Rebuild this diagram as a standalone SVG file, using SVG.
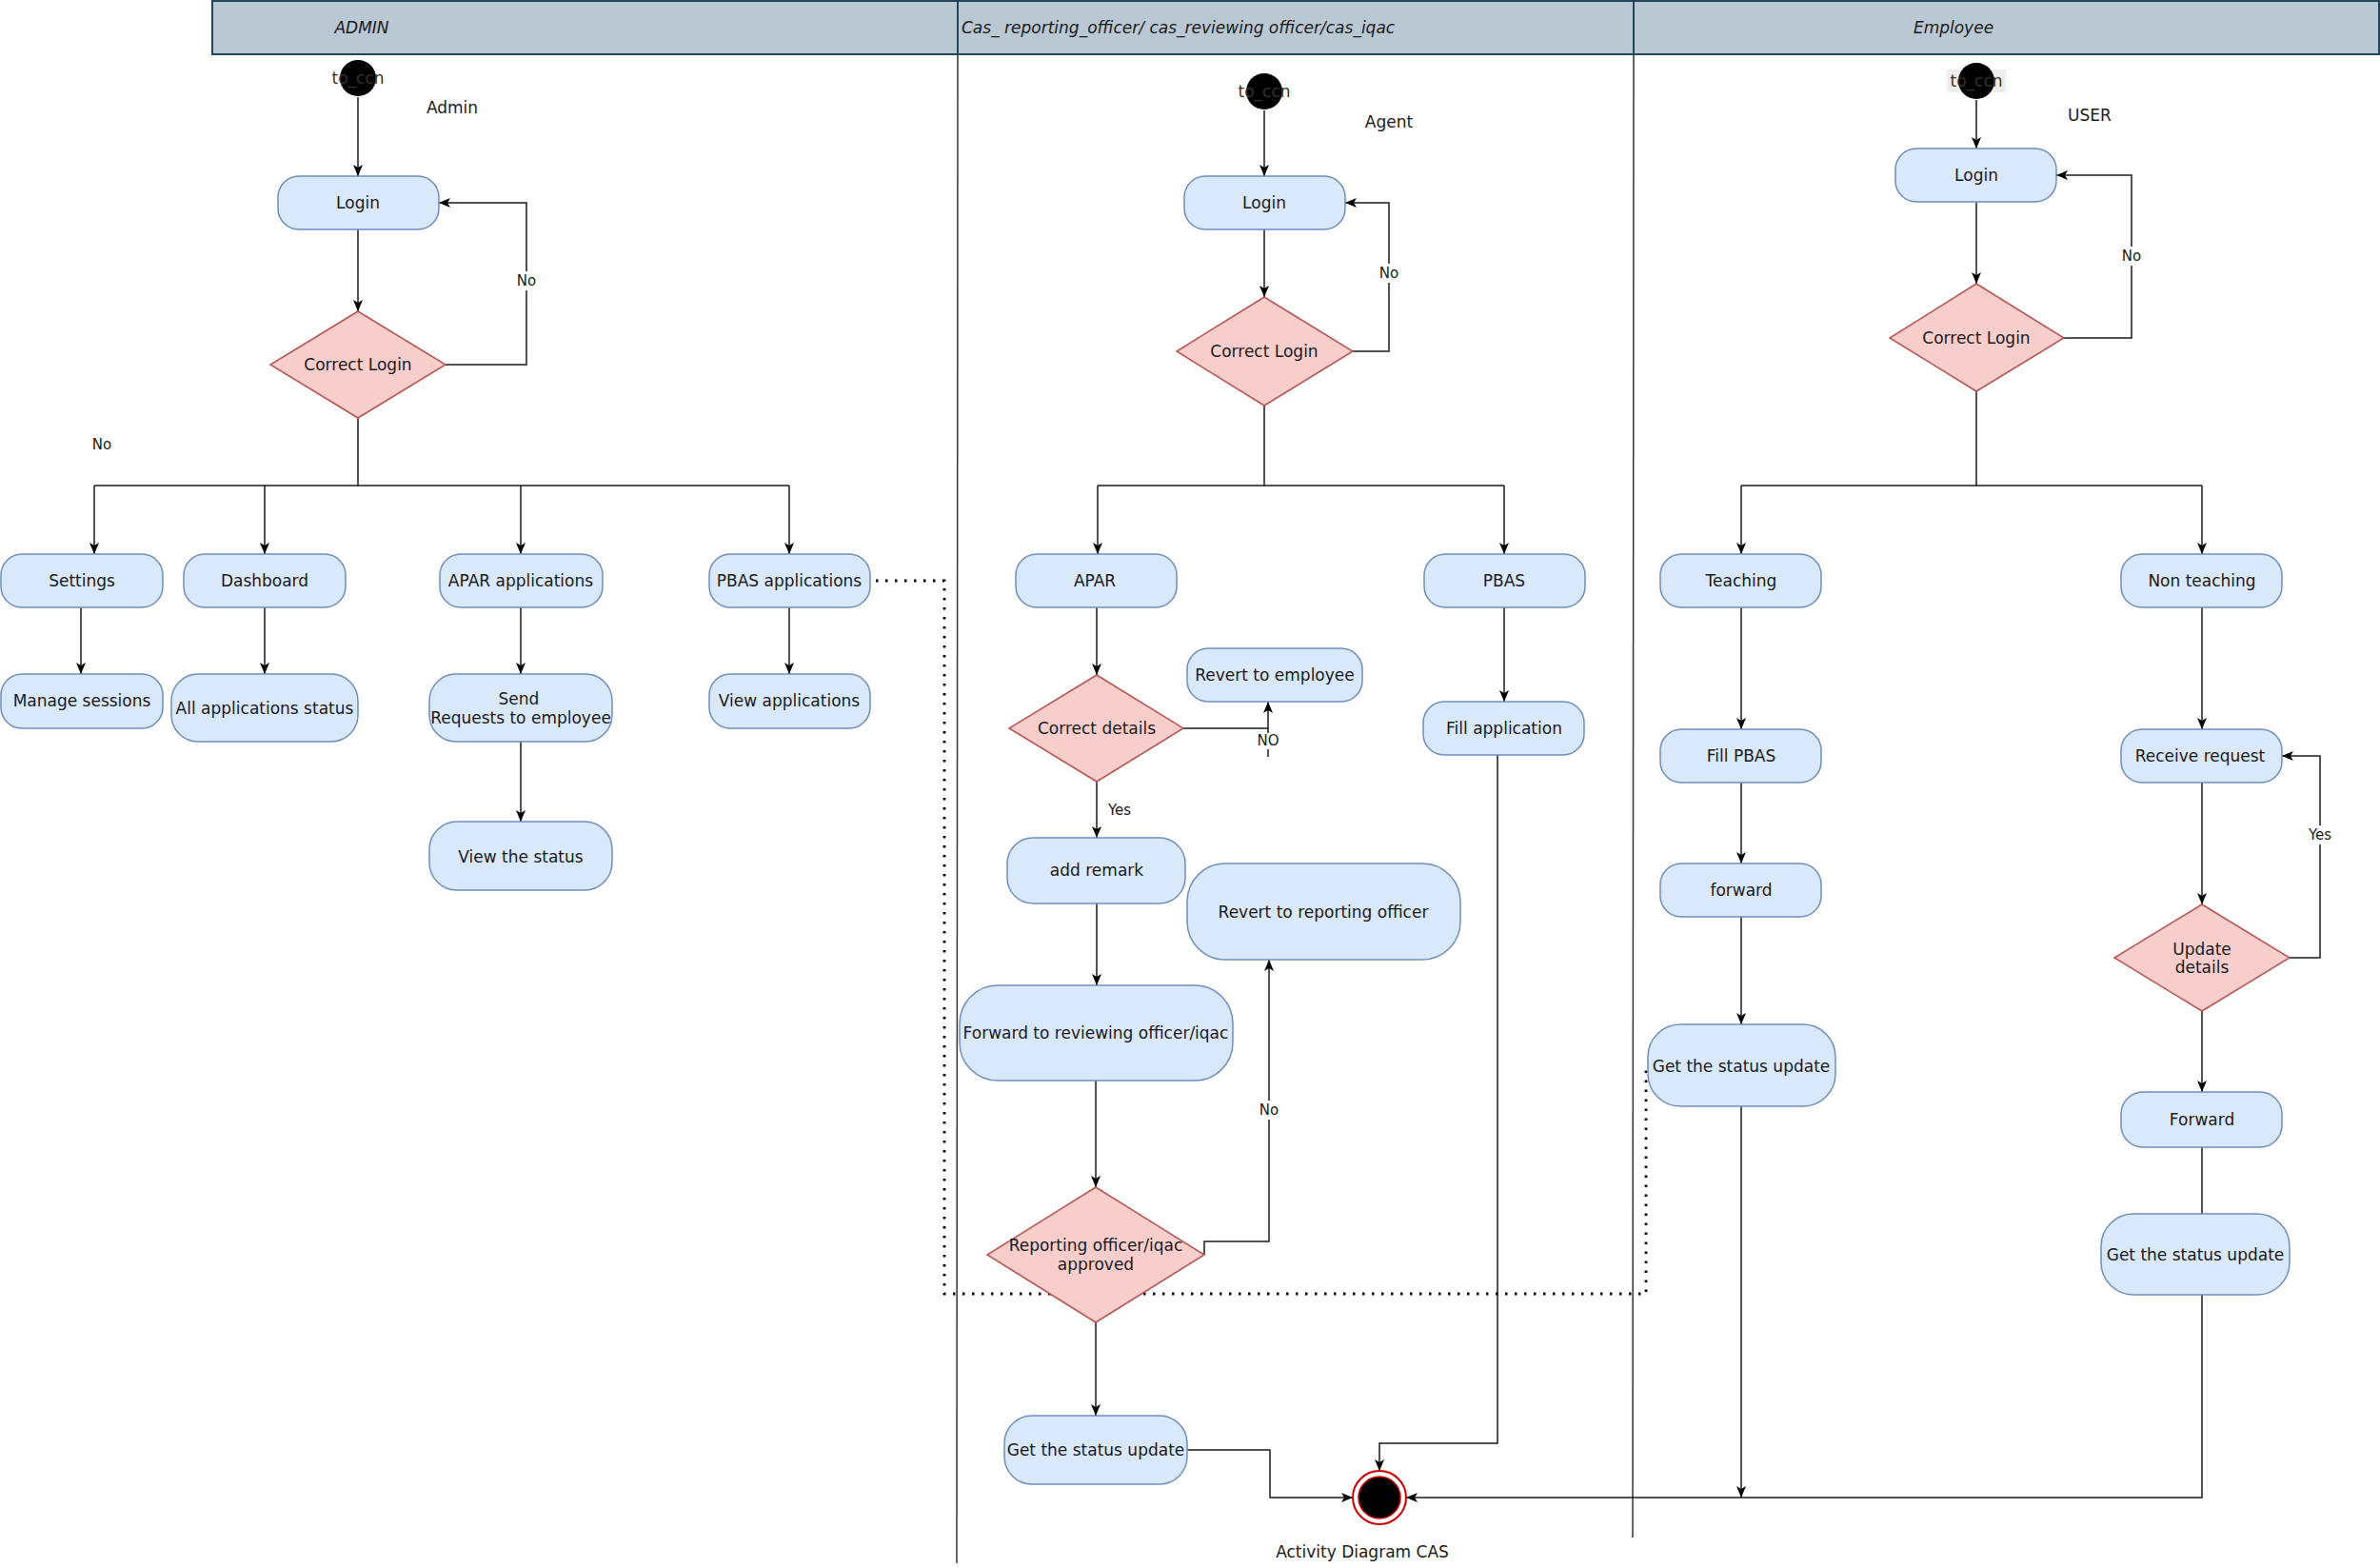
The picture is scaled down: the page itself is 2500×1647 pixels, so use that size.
<svg xmlns="http://www.w3.org/2000/svg" width="2500" height="1647" viewBox="0 0 2500 1647">
<style>
.bg{fill:#ffffff}
.node{fill:#dae8fc;stroke:#6c8ebf;stroke-width:1.5}
.dec{fill:#f8cecc;stroke:#b85450;stroke-width:1.5}
.t{font-family:"DejaVu Sans","Liberation Sans",sans-serif;font-size:17px;fill:#1a1a1a;text-anchor:middle;dominant-baseline:central}
.s{font-size:15px}
.hd{font-style:italic}
.e{fill:none;stroke:#1a1a1a;stroke-width:1.5}
.a{marker-end:url(#ah)}
.dot{fill:none;stroke:#000;stroke-width:2.8;stroke-dasharray:2.5 7.5;stroke-linecap:butt}
.lane{stroke:#333333;stroke-width:1.5;fill:none}
.start{fill:#000}
.lb{fill:#ffffff}
</style>
<defs>
<marker id="ah" viewBox="0 0 12 10" refX="12" refY="5" markerWidth="12" markerHeight="10" markerUnits="userSpaceOnUse" orient="auto">
<path d="M0,0 L12,5 L0,10 L3,5 Z" fill="#000"/>
</marker>
</defs>
<rect class="bg" x="0" y="0" width="2500" height="1647"/>

<g id="lanes">
<rect x="223" y="1" width="2276" height="56" fill="#bac8d3" stroke="#23445d" stroke-width="2"/>
<line x1="1006" y1="1" x2="1006" y2="57" stroke="#23445d" stroke-width="2"/>
<line x1="1716" y1="1" x2="1716" y2="57" stroke="#23445d" stroke-width="2"/>
<line class="lane" x1="1006" y1="57" x2="1005" y2="1642"/>
<line class="lane" x1="1716" y1="57" x2="1715" y2="1615"/>
<text class="t hd" x="380" y="29">ADMIN</text>
<text class="t hd" x="1010" y="29" style="text-anchor:start">Cas_ reporting_officer/ cas_reviewing officer/cas_iqac</text>
<text class="t hd" x="2052" y="29">Employee</text>
</g>

<g id="connectors">
<!-- Admin -->
<path class="e a" d="M376,102 V185"/>
<path class="e a" d="M376,241 V327"/>
<path class="e a" d="M468,383 H553 V213 H461"/>
<path class="e" d="M376,439 V510 M99,510 H829"/>
<path class="e a" d="M99,510 V582"/>
<path class="e a" d="M278,510 V582"/>
<path class="e a" d="M547,510 V582"/>
<path class="e a" d="M829,510 V582"/>
<path class="e a" d="M85,638 V708"/>
<path class="e a" d="M278,638 V708"/>
<path class="e a" d="M547,638 V708"/>
<path class="e a" d="M547,779 V863"/>
<path class="e a" d="M829,638 V708"/>
<path class="dot" d="M920,610 H992 V1359 H1729 V1120"/>
<!-- Middle -->
<path class="e a" d="M1328,116 V185"/>
<path class="e a" d="M1328,241 V312"/>
<path class="e a" d="M1421,369 H1459 V213 H1413"/>
<path class="e" d="M1328,426 V510 M1153,510 H1580"/>
<path class="e a" d="M1153,510 V582"/>
<path class="e a" d="M1580,510 V582"/>
<path class="e a" d="M1152,638 V709"/>
<path class="e a" d="M1243,765 H1332 V737"/>
<path class="e" d="M1332,765 V795"/>
<path class="e a" d="M1152,821 V880"/>
<path class="e a" d="M1152,949 V1035"/>
<path class="e a" d="M1151,1135 V1247"/>
<path class="e a" d="M1265,1318 V1304 H1333 V1008"/>
<path class="e a" d="M1151,1389 V1487"/>
<path class="e a" d="M1247,1523 H1334 V1573 H1421"/>
<path class="e a" d="M1580,638 V737"/>
<path class="e a" d="M1573,793 V1516 H1449 V1545"/>
<!-- Employee -->
<path class="e a" d="M2076,105 V156"/>
<path class="e a" d="M2076,212 V298"/>
<path class="e a" d="M2168,355 H2239 V184 H2160"/>
<path class="e" d="M2076,411 V510 M1829,510 H2313"/>
<path class="e a" d="M1829,510 V582"/>
<path class="e a" d="M2313,510 V582"/>
<path class="e a" d="M1829,638 V766"/>
<path class="e a" d="M1829,822 V907"/>
<path class="e a" d="M1829,963 V1076"/>
<path class="e a" d="M1829,1162 V1573"/>
<path class="e a" d="M2313,638 V766"/>
<path class="e a" d="M2313,822 V950"/>
<path class="e a" d="M2405,1006 H2437 V794 H2397"/>
<path class="e a" d="M2313,1062 V1147"/>
<path class="e" d="M2313,1205 V1275"/>
<path class="e a" d="M2313,1360 V1573 H1477"/>
<!-- edge labels -->
<rect class="lb" x="541" y="285" width="24" height="20"/>
<text class="t s" x="553" y="295">No</text>
<rect class="lb" x="1447" y="277" width="24" height="20"/>
<text class="t s" x="1459" y="287">No</text>
<rect class="lb" x="2227" y="259" width="24" height="20"/>
<text class="t s" x="2239" y="269">No</text>
<rect class="lb" x="1320" y="770" width="24" height="17"/>
<text class="t s" x="1332" y="778">NO</text>
<text class="t s" x="1176" y="851">Yes</text>
<rect class="lb" x="1321" y="1156" width="24" height="20"/>
<text class="t s" x="1333" y="1166">No</text>
<rect class="lb" x="2423" y="867" width="28" height="20"/>
<text class="t s" x="2437" y="877">Yes</text>
</g>

<g id="admin-start">
<circle class="start" cx="376" cy="82" r="19"/>
<text class="t" x="376" y="82" style="fill:#333">to_ccn</text>
</g>
<g id="admin-label"><text class="t" x="475" y="113">Admin</text></g>
<g id="admin-login"><rect class="node" x="292" y="185" width="169" height="56" rx="22"/><text class="t" x="376" y="213">Login</text></g>
<g id="admin-correct-login"><polygon class="dec" points="376,327 468,383 376,439 284,383"/><text class="t" x="376" y="383">Correct Login</text></g>
<g id="admin-no"><text class="t s" x="107" y="467">No</text></g>
<g id="settings"><rect class="node" x="1" y="582" width="170" height="56" rx="22"/><text class="t" x="86" y="610">Settings</text></g>
<g id="dashboard"><rect class="node" x="193" y="582" width="170" height="56" rx="22"/><text class="t" x="278" y="610">Dashboard</text></g>
<g id="apar-applications"><rect class="node" x="462" y="582" width="171" height="56" rx="22"/><text class="t" x="547" y="610">APAR applications</text></g>
<g id="pbas-applications"><rect class="node" x="745" y="582" width="169" height="56" rx="22"/><text class="t" x="829" y="610">PBAS applications</text></g>
<g id="manage-sessions"><rect class="node" x="1" y="708" width="170" height="57" rx="22"/><text class="t" x="86" y="736">Manage sessions</text></g>
<g id="all-applications-status"><rect class="node" x="180" y="708" width="196" height="71" rx="28"/><text class="t" x="278" y="744">All applications status</text></g>
<g id="send-requests"><rect class="node" x="451" y="708" width="192" height="71" rx="28"/><text class="t" x="545" y="734">Send</text><text class="t" x="547" y="754">Requests to employee</text></g>
<g id="view-the-status"><rect class="node" x="451" y="863" width="192" height="72" rx="29"/><text class="t" x="547" y="900">View the status</text></g>
<g id="view-applications"><rect class="node" x="745" y="708" width="169" height="57" rx="22"/><text class="t" x="829" y="736">View applications</text></g>

<g id="agent-start">
<circle class="start" cx="1328" cy="96" r="19"/>
<text class="t" x="1328" y="96" style="fill:#333">to_ccn</text>
</g>
<g id="agent-label"><text class="t" x="1459" y="128">Agent</text></g>
<g id="agent-login"><rect class="node" x="1244" y="185" width="169" height="56" rx="22"/><text class="t" x="1328" y="213">Login</text></g>
<g id="agent-correct-login"><polygon class="dec" points="1328,312 1421,369 1328,426 1236,369"/><text class="t" x="1328" y="369">Correct Login</text></g>
<g id="apar"><rect class="node" x="1067" y="582" width="169" height="56" rx="22"/><text class="t" x="1150" y="610">APAR</text></g>
<g id="pbas"><rect class="node" x="1496" y="582" width="169" height="56" rx="22"/><text class="t" x="1580" y="610">PBAS</text></g>
<g id="correct-details"><polygon class="dec" points="1152,709 1243,765 1152,821 1060,765"/><text class="t" x="1152" y="765">Correct details</text></g>
<g id="revert-to-employee"><rect class="node" x="1247" y="681" width="184" height="56" rx="22"/><text class="t" x="1339" y="709">Revert to employee</text></g>
<g id="add-remark"><rect class="node" x="1058" y="880" width="187" height="69" rx="27"/><text class="t" x="1152" y="914">add remark</text></g>
<g id="revert-to-reporting-officer"><rect class="node" x="1247" y="907" width="287" height="101" rx="40"/><text class="t" x="1390" y="958">Revert to reporting officer</text></g>
<g id="forward-to-reviewing"><rect class="node" x="1008" y="1035" width="287" height="100" rx="40"/><text class="t" x="1151" y="1085">Forward to reviewing officer/iqac</text></g>
<g id="reporting-approved"><polygon class="dec" points="1151,1247 1265,1318 1151,1389 1037,1318"/><text class="t" x="1151" y="1308">Reporting officer/iqac</text><text class="t" x="1151" y="1328">approved</text></g>
<g id="get-status-agent"><rect class="node" x="1055" y="1487" width="192" height="72" rx="29"/><text class="t" x="1151" y="1523">Get the status update</text></g>
<g id="fill-application"><rect class="node" x="1495" y="737" width="169" height="56" rx="22"/><text class="t" x="1580" y="765">Fill application</text></g>
<g id="end-state">
<circle cx="1449" cy="1573" r="28" fill="#ffffff" stroke="#cc0000" stroke-width="2"/>
<circle cx="1449" cy="1573" r="22" fill="#000000" stroke="#cc0000" stroke-width="1.5"/>
</g>
<g id="caption"><text class="t" x="1431" y="1630">Activity Diagram CAS</text></g>

<g id="user-start">
<rect x="2045" y="73" width="62" height="24" fill="#eeeeee"/>
<circle class="start" cx="2076" cy="85" r="19"/>
<text class="t" x="2076" y="85" style="fill:#333">to_ccn</text>
</g>
<g id="user-label"><text class="t" x="2195" y="121">USER</text></g>
<g id="user-login"><rect class="node" x="1991" y="156" width="169" height="56" rx="22"/><text class="t" x="2076" y="184">Login</text></g>
<g id="user-correct-login"><polygon class="dec" points="2076,298 2168,355 2076,411 1985,355"/><text class="t" x="2076" y="355">Correct Login</text></g>
<g id="teaching"><rect class="node" x="1744" y="582" width="169" height="56" rx="22"/><text class="t" x="1829" y="610">Teaching</text></g>
<g id="non-teaching"><rect class="node" x="2228" y="582" width="169" height="56" rx="22"/><text class="t" x="2313" y="610">Non teaching</text></g>
<g id="fill-pbas"><rect class="node" x="1744" y="766" width="169" height="56" rx="22"/><text class="t" x="1829" y="794">Fill PBAS</text></g>
<g id="forward-lower"><rect class="node" x="1744" y="907" width="169" height="56" rx="22"/><text class="t" x="1829" y="935">forward</text></g>
<g id="get-status-teaching"><rect class="node" x="1731" y="1076" width="197" height="86" rx="34"/><text class="t" x="1829" y="1120">Get the status update</text></g>
<g id="receive-request"><rect class="node" x="2228" y="766" width="169" height="56" rx="22"/><text class="t" x="2311" y="794">Receive request</text></g>
<g id="update-details"><polygon class="dec" points="2313,950 2405,1006 2313,1062 2221,1006"/><text class="t" x="2313" y="997">Update</text><text class="t" x="2313" y="1016">details</text></g>
<g id="forward-upper"><rect class="node" x="2228" y="1147" width="169" height="58" rx="23"/><text class="t" x="2313" y="1176">Forward</text></g>
<g id="get-status-nonteaching"><rect class="node" x="2207" y="1275" width="198" height="85" rx="34"/><text class="t" x="2306" y="1318">Get the status update</text></g>
</svg>
